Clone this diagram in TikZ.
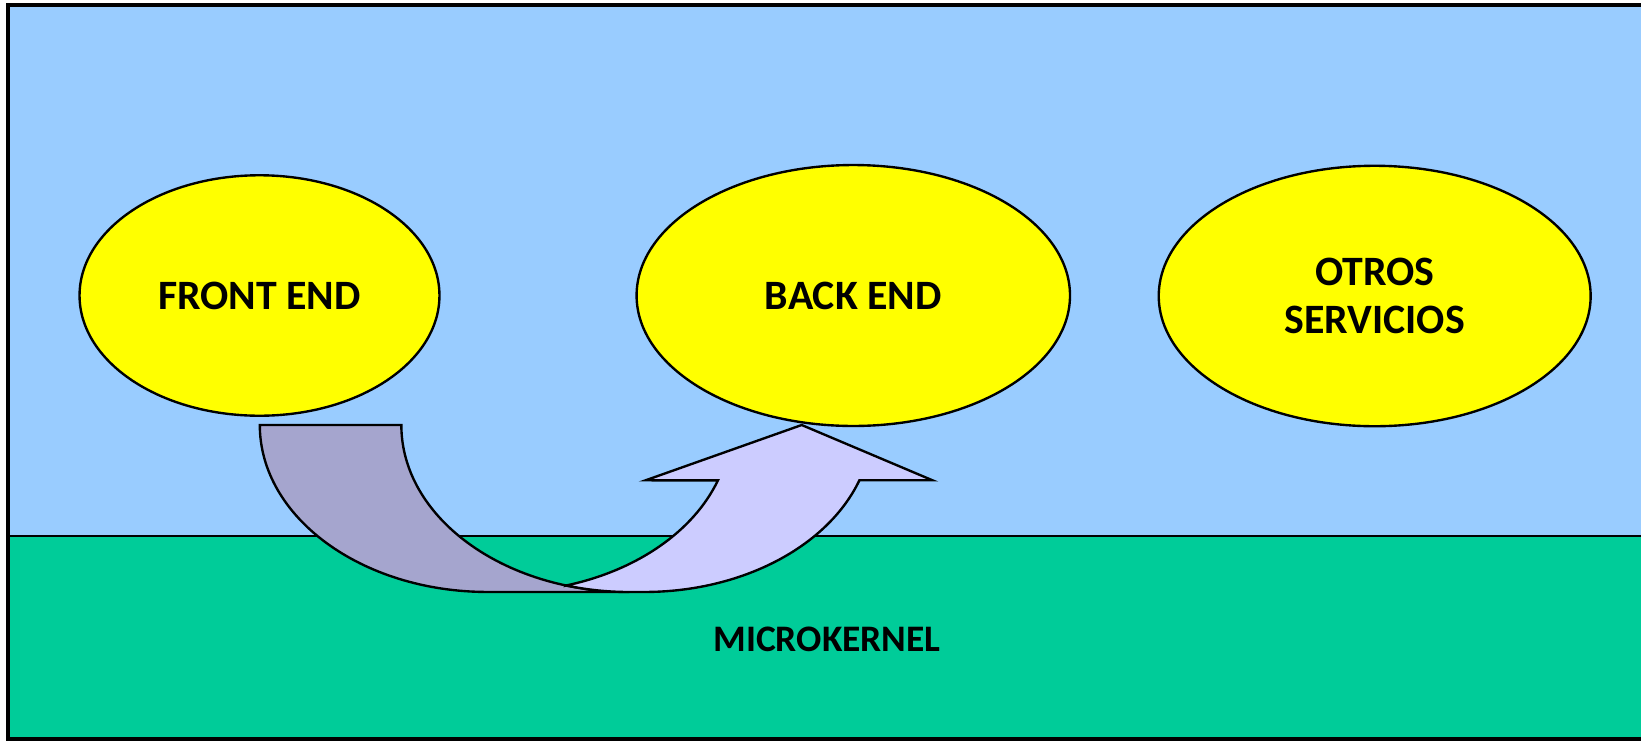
\documentclass[tikz,border=0pt]{standalone}
\usepackage{fontspec}
\setmainfont{Carlito}
\usetikzlibrary{shapes.geometric}
\definecolor{skyblue}{HTML}{99CCFF}
\definecolor{kernelgreen}{HTML}{00CC99}
\definecolor{lavender}{HTML}{CCCCFF}
\definecolor{darklav}{HTML}{A5A5CE}
\definecolor{svcyellow}{HTML}{FFFF00}
\begin{document}
\begin{tikzpicture}[x=0.02cm,y=0.02cm,
  svc/.style={ellipse, draw=black, line width=1.35pt, fill=svcyellow, inner sep=0pt,
    font=\fontsize{23.8}{27.5}\selectfont\bfseries, align=center},
  lbl/.style={font=\fontsize{21.3}{25}\selectfont\bfseries, inner sep=0pt},
  arrowpart/.style={draw=black, line width=1.35pt, line join=miter}]
\useasboundingbox (0,0) rectangle (1641,-741);
% layers
\fill[skyblue] (8,-5) rectangle (1660,-536);
\fill[kernelgreen] (8,-536) rectangle (1660,-739);
\draw[line width=1.6pt] (8,-536) -- (1660,-536);
\draw[line width=1.8pt] (1660,-5) -- (8,-5) -- (8,-739) -- (1660,-739);
% services
\node[svc, minimum width=7.2cm, minimum height=4.81cm] (front) at (259.5,-295.5) {FRONT END};
\node[svc, minimum width=8.67cm, minimum height=5.22cm] (back) at (853.3,-295.5) {BACK END};
\node[svc, minimum width=8.64cm, minimum height=5.21cm] (otros) at (1374.7,-296) {OTROS\\SERVICIOS};
\node[lbl] (kernel) at (827,-639) {MICROKERNEL};
% curved arrow: dark tail band
\path[arrowpart, fill=darklav] (259.8,-425)
  arc[start angle=180, end angle=270, x radius=4.56cm, y radius=3.34cm]
  -- (629.3,-592)
  arc[start angle=270, end angle=180, x radius=4.56cm, y radius=3.34cm]
  -- cycle;
% curved arrow: light body with head
\path[arrowpart, fill=lavender] (566.05,-585.5)
  arc[start angle=-73.9, end angle=-19.34, x radius=4.56cm, y radius=3.34cm]
  -- (645.6,-480.3) -- (801.7,-425) -- (932.5,-480.3) -- (859.4,-480.3)
  arc[start angle=-19.34, end angle=-90, x radius=4.56cm, y radius=3.34cm]
  -- (629.3,-592)
  arc[start angle=-90, end angle=-106.1, x radius=4.56cm, y radius=3.34cm]
  -- cycle;
\end{tikzpicture}
\end{document}
